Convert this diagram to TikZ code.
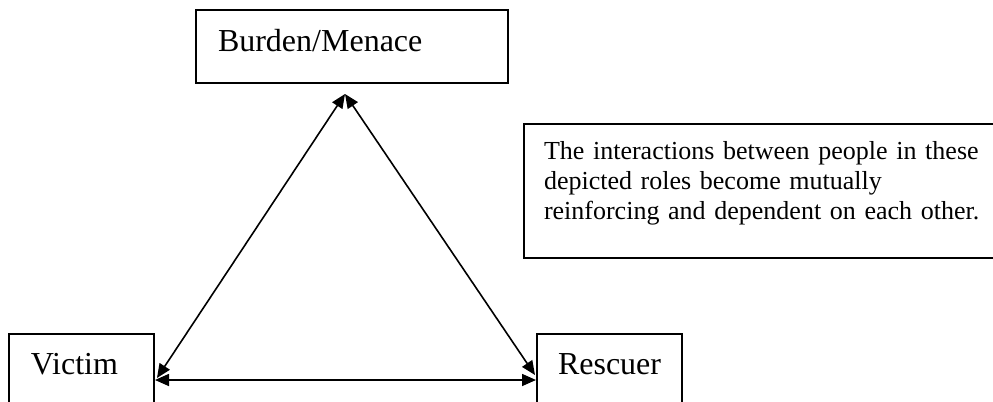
\documentclass[tikz,border=0pt]{standalone}
\usepackage{fontspec}
\setmainfont{Liberation Serif}
\usetikzlibrary{arrows.meta,calc}
\tikzset{
  role/.style={rectangle,draw,line width=1pt,inner xsep=11pt,inner ysep=0pt,text width=50.5pt,align=left,font=\fontsize{16}{19}\selectfont,text height=20pt,text depth=40pt},
  txt/.style={rectangle,draw,line width=1pt,inner xsep=10pt,inner ysep=0pt,text width=225pt,align=left,font=\fontsize{13}{15}\selectfont,text height=17.5pt,text depth=49.5pt},
  dbl/.style={{Triangle[length=7pt,width=6pt]}-{Triangle[length=7pt,width=6pt]},line width=0.8pt},
}
\begin{document}
\begin{tikzpicture}[x=0.5pt,y=-0.5pt]
  \path[use as bounding box,clip] (0,0) rectangle (993,402);
  \node[role,anchor=north west,text width=134pt,text height=20.5pt,text depth=16pt] (burden) at (195,9) {Burden/Menace};
  \node[role,anchor=north west] (victim) at (8,333) {Victim};
  \node[role,anchor=north west,inner xsep=10.5pt,text width=51.5pt] (rescuer) at (536,333) {Rescuer};
  \node[txt,anchor=north west] (note) at (523,123) {The interactions between people in these\\depicted roles become mutually\\reinforcing and dependent on each other.};
  \coordinate (apex) at ($(burden.south west)+(150,10)$);
  \draw[dbl] (apex) -- ($(victim.north east)+(2,45)$);
  \draw[dbl] (apex) -- ($(rescuer.north west)+(-1,42)$);
  \draw[dbl] ($(victim.north east)+(0,47)$) -- ($(rescuer.north west)+(0,47)$);
\end{tikzpicture}
\end{document}
